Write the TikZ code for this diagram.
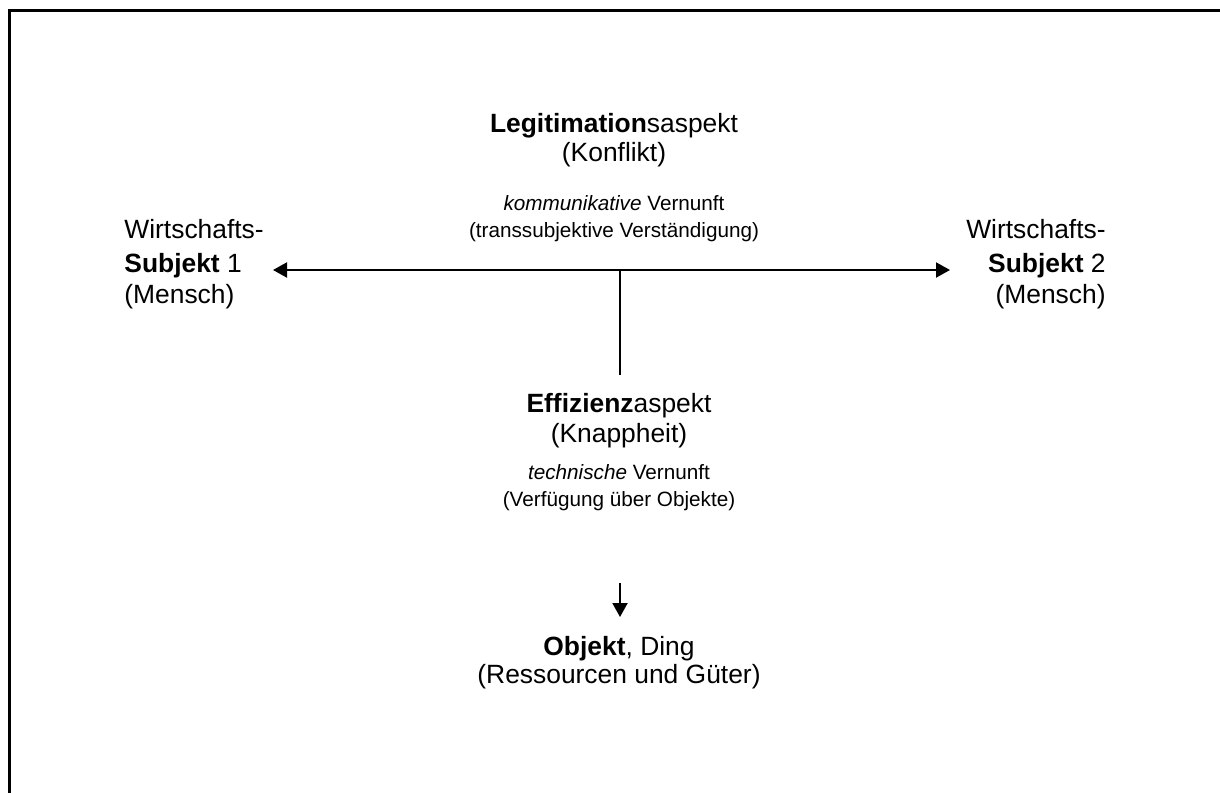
\documentclass[tikz,border=0pt]{standalone}
\usepackage{fontspec}
\setmainfont{Liberation Sans}
\usetikzlibrary{arrows.meta}
\begin{document}
\begin{tikzpicture}[x=0.5pt,y=-0.5pt,
  big/.style={font=\fontsize{13.2pt}{16pt}\selectfont, inner sep=0pt, anchor=base},
  bigl/.style={big, anchor=base west},
  bigr/.style={big, anchor=base east},
  small/.style={font=\fontsize{10.35pt}{13pt}\selectfont, inner sep=0pt, anchor=base},
  frameline/.style={line width=1.5pt},
  conn/.style={line width=1pt},
  arr/.style={conn,-{Triangle[length=7pt,width=7.5pt]}}]
\useasboundingbox (0,0) rectangle (1220,792);
\draw[frameline] (9.5,800) -- (9.5,10.5) -- (1230,10.5);

% top block
\node[big] (leg) at (614,133) {\textbf{Legitimation}saspekt};
\node[big] (konf) at (614,162) {(Konflikt)};
\node[small] (komm) at (614,210) {\textit{kommunikative} Vernunft};
\node[small] (trans) at (614,237) {(transsubjektive Verständigung)};

% left subject
\node[bigl] (w1) at (124,238) {Wirtschafts-};
\node[bigl] (s1) at (124,272) {\textbf{Subjekt} 1};
\node[bigl] (m1) at (124,303) {(Mensch)};

% right subject
\node[bigr] (w2) at (1106,238) {Wirtschafts-};
\node[bigr] (s2) at (1106,272) {\textbf{Subjekt} 2};
\node[bigr] (m2) at (1106,303) {(Mensch)};

% efficiency block
\node[big] (eff) at (619,412) {\textbf{Effizienz}aspekt};
\node[big] (knap) at (619,442) {(Knappheit)};
\node[small] (tech) at (619,479) {\textit{technische} Vernunft};
\node[small] (verf) at (619,506) {(Verfügung über Objekte)};

% object
\node[big] (obj) at (619,655) {\textbf{Objekt}, Ding};
\node[big] (res) at (619,683) {(Ressourcen und Güter)};

% connectors
\coordinate (hub) at (620,270);
\coordinate (lt) at (273,270);
\coordinate (rt) at (950,270);
\coordinate (vend) at (620,375);
\coordinate (astart) at (620,583);
\coordinate (atip) at (620,617);
\draw[arr] (hub) -- (lt);
\draw[arr] (hub) -- (rt);
\draw[conn] (hub) -- (vend);
\draw[arr] (astart) -- (atip);
\end{tikzpicture}
\end{document}
